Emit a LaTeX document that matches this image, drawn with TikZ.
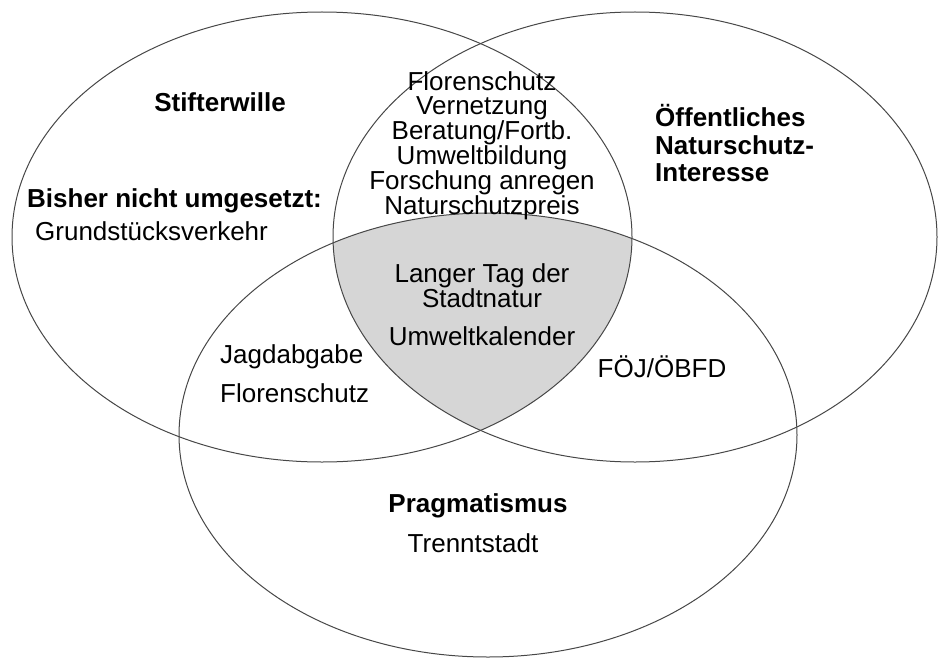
\documentclass[tikz,border=0pt]{standalone}
\usepackage{fontspec}
\setmainfont{Liberation Sans}

\begin{document}
\begin{tikzpicture}[x=1pt,y=-1pt,every node/.style={inner sep=0pt,font=\fontsize{26}{23.5}\selectfont}]
  \tikzset{venn/.style={draw=black!72,line width=1pt},
           head/.style={font=\fontsize{26}{27.5}\selectfont\bfseries}}
  \useasboundingbox (0,0) rectangle (939,658);
  % shaded centre
  \begin{scope}
    \clip (322,237) ellipse [x radius=310pt,y radius=225pt];
    \clip (635,237) ellipse [x radius=302pt,y radius=225pt];
    \fill[black!16] (488,435) ellipse [x radius=309pt,y radius=222pt];
  \end{scope}
  \draw[venn] (322,237) ellipse [x radius=310pt,y radius=225pt];
  \draw[venn] (635,237) ellipse [x radius=302pt,y radius=225pt];
  \draw[venn] (488,435) ellipse [x radius=309pt,y radius=222pt];

  \node[head,anchor=base]      (stift) at (220,112) {Stifterwille};
  \node[head,anchor=base west] (bish)  at (27,207)  {Bisher nicht umgesetzt:};
  \node[anchor=base west]      (grund) at (35,240)  {Grundstücksverkehr};
  \node[align=center,anchor=north] (top) at (482,71.5)
    {Florenschutz\\Vernetzung\\Beratung/Fortb.\\Umweltbildung\\Forschung anregen\\Naturschutzpreis};
  \node[head,align=left,anchor=north west] (oeff) at (655,104.5)
    {Öffentliches\\Naturschutz-\\Interesse};
  \node[align=center,anchor=north] (tag) at (482,263)
    {Langer Tag der\\Stadtnatur\\[15pt]Umweltkalender};
  \node[align=left,anchor=north west] (jagd) at (220,344.5)
    {Jagdabgabe\\[13.5pt]Florenschutz};
  \node[anchor=base]           (foej)  at (662,377) {FÖJ/ÖBFD};
  \node[head,anchor=base]      (prag)  at (478,512) {Pragmatismus};
  \node[anchor=base]           (trenn) at (473,552) {Trenntstadt};
\end{tikzpicture}
\end{document}
